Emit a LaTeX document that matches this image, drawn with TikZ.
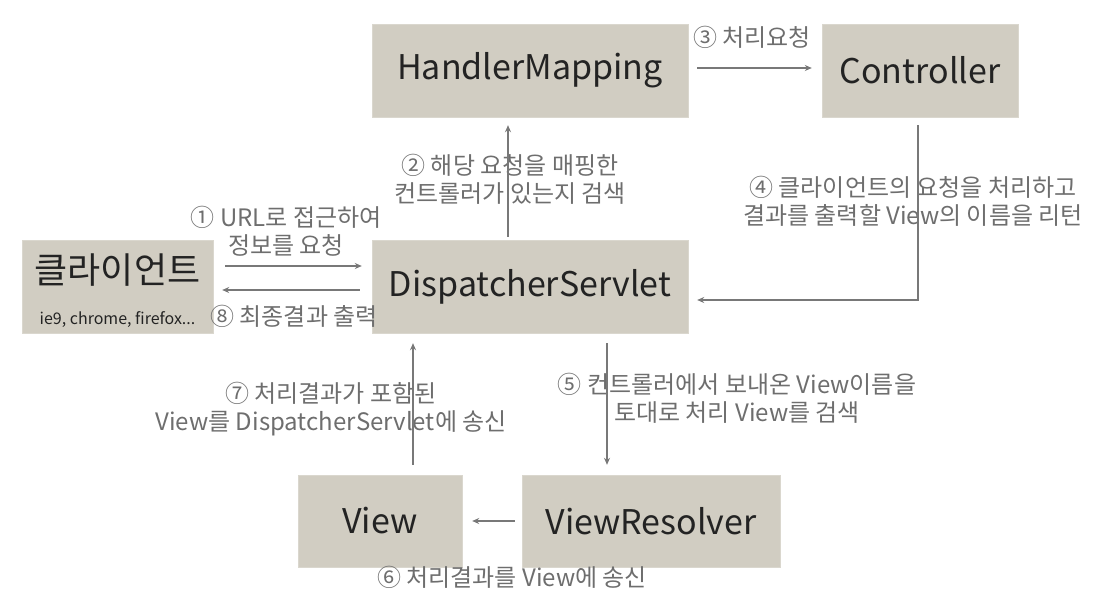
\documentclass[tikz,border=0pt]{standalone}
\usepackage{fontspec}
\setmainfont{Noto Sans CJK KR}
\usetikzlibrary{arrows.meta}
\definecolor{boxfill}{RGB}{209,205,194}
\definecolor{boxtext}{RGB}{35,35,35}
\definecolor{lbltext}{RGB}{110,110,110}
\definecolor{arrgray}{RGB}{120,120,120}
\begin{document}
\begin{tikzpicture}[x=1pt,y=-1pt,
    box/.style={fill=boxfill, draw=boxfill!80!white, inner sep=0pt, text=boxtext, font=\fontsize{34}{38}\selectfont},
    lbl/.style={text=lbltext, align=center, inner sep=0pt, font=\fontsize{24}{28}\selectfont},
    arr/.style={draw=arrgray, line width=1.6pt, -{Stealth[length=7pt,width=6pt]}}]
    \useasboundingbox (0,0) rectangle (1093,600);
    % boxes
    \node (hm)[box, minimum width=316pt, minimum height=93pt] at (530,70.5) {HandlerMapping};
    \node (ctl)[box, minimum width=196pt, minimum height=93pt] at (920,70.5) {Controller};
    \node (cl)[box, minimum width=191pt, minimum height=93pt] at (117.5,286.5) {};
    \node (clt)[text=boxtext, font=\fontsize{36}{38}\selectfont] at (117.5,270) {클라이언트};
    \node (clsub)[text=boxtext, font=\fontsize{16}{18}\selectfont] at (117.5,320) {ie9, chrome, firefox...};
    \node (ds)[box, minimum width=316pt, minimum height=93pt] at (530,286.5) {DispatcherServlet};
    \node (vw)[box, minimum width=164pt, minimum height=92pt] at (380,521) {View};
    \node (vr)[box, minimum width=258pt, minimum height=92pt] at (651,521) {ViewResolver};
    % labels
    \node (l1)[lbl] at (286,231) {① URL로 접근하여\\정보를 요청};
    \node (l2)[lbl] at (510,179) {② 해당 요청을 매핑한\\컨트롤러가 있는지 검색};
    \node (l3)[lbl] at (752,37) {③ 처리요청};
    \node (l4)[lbl] at (913,201) {④ 클라이언트의 요청을 처리하고\\결과를 출력할 View의 이름을 리턴};
    \node (l5)[lbl] at (737,398) {⑤ 컨트롤러에서 보내온 View이름을\\토대로 처리 View를 검색};
    \node (l6)[lbl] at (512,577) {⑥ 처리결과를 View에 송신};
    \node (l7)[lbl] at (331,409) {⑦ 처리결과가 포함된\\View를 DispatcherServlet에 송신};
    \node (l8)[lbl] at (294,316) {⑧ 최종결과 출력};
    % arrows
    \draw[arr, shorten <=3pt, shorten >=8pt] ([xshift=-22pt]ds.north) -- ([xshift=-22pt]hm.south);
    \draw[arr, shorten <=9pt, shorten >=10pt] ([yshift=2.5pt]hm.east) -- ([yshift=2.5pt]ctl.west);
    \draw[arr, shorten <=8pt, shorten >=9pt] ([xshift=-2pt]ctl.south) |- ([yshift=-13.5pt]ds.east);
    \draw[arr, shorten <=12pt, shorten >=10pt] ([yshift=20.5pt]cl.east) -- ([yshift=20.5pt]ds.west);
    \draw[arr, shorten <=12pt, shorten >=9pt] ([yshift=-3.5pt]ds.west) -- ([yshift=-3.5pt]cl.east);
    \draw[arr, shorten <=10pt, shorten >=10pt] ([xshift=77pt]ds.south) -- ([xshift=-44pt]vr.north);
    \draw[arr, shorten <=7pt, shorten >=10pt] (vr.west) -- (vw.east);
    \draw[arr, shorten <=10pt, shorten >=10pt] ([xshift=33pt]vw.north) -- ([xshift=-117pt]ds.south);
\end{tikzpicture}
\end{document}
